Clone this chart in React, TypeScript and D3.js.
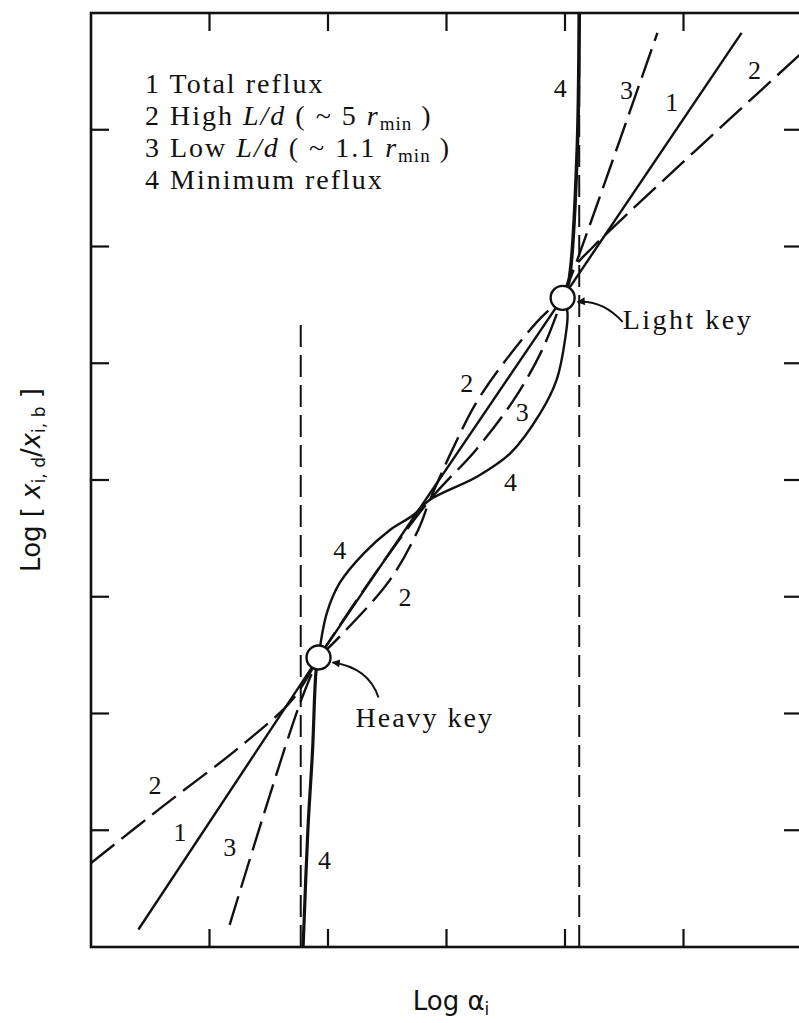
import React from 'react';
import * as d3 from 'd3';

// plot frame in px (right edge runs just past the page, as in the scan)
const FRAME = { left: 91, top: 13, right: 802, bottom: 947 };

// log units, no tick labels on the original
const xDomain = [0, 6];
const yDomain = [0, 8];
const xTickValues = [1, 2, 3, 4, 5];
const yTickValues = [1, 2, 3, 4, 5, 6, 7];

// key components
const heavyKey: [number, number] = [1.92, 2.48];
const lightKey: [number, number] = [3.98, 5.56];

// 1 total reflux
const totalReflux = [[0.40, 0.15], [1.92, 2.48], [3.98, 5.56], [5.49, 7.83]];

// 2 high L/d
const highLdLower = [[0.0, 0.72], [0.60, 1.20], [1.30, 1.75], [1.70, 2.12], [1.92, 2.48]];
const highLdMid = [[1.92, 2.48], [2.10, 2.66], [2.52, 3.14], [2.76, 3.57], [2.86, 3.83], [3.05, 4.26], [3.28, 4.71], [3.76, 5.35], [3.98, 5.56]];
const highLdUpper = [[3.98, 5.56], [4.08, 5.82], [4.24, 6.00], [6.0, 7.66]];

// 3 low L/d
const lowLdLower = [[1.17, 0.19], [1.75, 2.05], [1.92, 2.48]];
const lowLdMid = [[1.92, 2.48], [2.35, 3.13], [2.86, 3.83], [3.25, 4.26], [3.57, 4.69], [3.81, 5.12], [3.98, 5.56]];
const lowLdUpper = [[3.98, 5.56], [4.08, 5.82], [4.78, 7.83]];

// 4 minimum reflux
const minRefluxLower = [[1.79, 0.0], [1.83, 1.00], [1.87, 1.69], [1.90, 2.37], [1.92, 2.48]];
const minRefluxMid = [[1.92, 2.48], [1.99, 2.86], [2.10, 3.12], [2.30, 3.37], [2.52, 3.57], [2.72, 3.70], [2.86, 3.83], [3.26, 4.03], [3.54, 4.23], [3.79, 4.57], [3.93, 4.86], [4.00, 5.20], [4.02, 5.44], [3.98, 5.56]];
const minRefluxUpper = [[3.98, 5.56], [4.03, 5.69], [4.10, 6.74], [4.12, 8.0]];

// pinch asymptotes
const pinchLeft = [[1.77, 0], [1.77, 5.33]];
const pinchRight = [[4.12, 0], [4.12, 8]];

const legendLines = [
  ['1 Total reflux'],
  ['2 High ', 'L/d', ' ( ~ 5 ', 'r', 'min', ' )'],
  ['3 Low ', 'L/d', ' ( ~ 1.1 ', 'r', 'min', ' )'],
  ['4 Minimum reflux'],
];

const curveLabels = [
  { t: '4', x: 3.96, y: 7.36 },
  { t: '3', x: 4.52, y: 7.34 },
  { t: '1', x: 4.90, y: 7.24 },
  { t: '2', x: 5.60, y: 7.51 },
  { t: '2', x: 3.17, y: 4.83 },
  { t: '3', x: 3.64, y: 4.58 },
  { t: '4', x: 3.54, y: 3.98 },
  { t: '4', x: 2.10, y: 3.40 },
  { t: '2', x: 2.65, y: 3.00 },
  { t: '2', x: 0.54, y: 1.39 },
  { t: '1', x: 0.75, y: 0.99 },
  { t: '3', x: 1.17, y: 0.86 },
  { t: '4', x: 1.97, y: 0.75 },
];

const SERIF = '"Liberation Serif", "Times New Roman", serif';
const SANS = '"DejaVu Sans", sans-serif';
const INK = '#111';

export default function App() {
  const x = d3.scaleLinear().domain(xDomain).range([FRAME.left, FRAME.right]);
  const y = d3.scaleLinear().domain(yDomain).range([FRAME.bottom, FRAME.top]);

  const straight = d3.line<number[]>().x(d => x(d[0])).y(d => y(d[1]));
  const smooth = d3.line<number[]>().x(d => x(d[0])).y(d => y(d[1])).curve(d3.curveCatmullRom.alpha(0.5));

  const solid = { fill: 'none', stroke: INK, strokeWidth: 2.4 };
  const dashed = { ...solid, strokeDasharray: '30 9' };
  const pinch = { fill: 'none', stroke: INK, strokeWidth: 2, strokeDasharray: '22 8' };

  const hk = [x(heavyKey[0]), y(heavyKey[1])];
  const lk = [x(lightKey[0]), y(lightKey[1])];
  const R = 12;

  const tick = 18;

  return (
    <svg width={799} height={1023} style={{ position: 'absolute', left: 0, top: 0, background: '#fff' }}>
      <defs>
        <clipPath id="plot">
          <rect x={FRAME.left} y={FRAME.top} width={FRAME.right - FRAME.left} height={FRAME.bottom - FRAME.top} />
        </clipPath>
        <marker id="arr" viewBox="0 0 10 10" refX="9" refY="5" markerWidth="10" markerHeight="8" markerUnits="userSpaceOnUse" orient="auto">
          <path d="M0,0 L10,5 L0,10 z" fill={INK} />
        </marker>
      </defs>

      {/* frame */}
      <rect x={FRAME.left} y={FRAME.top} width={FRAME.right - FRAME.left} height={FRAME.bottom - FRAME.top}
        fill="none" stroke={INK} strokeWidth={2.6} />
      {xTickValues.map(v => (
        <g key={'x' + v}>
          <line x1={x(v)} x2={x(v)} y1={FRAME.bottom} y2={FRAME.bottom - tick} stroke={INK} strokeWidth={2.2} />
          <line x1={x(v)} x2={x(v)} y1={FRAME.top} y2={FRAME.top + tick} stroke={INK} strokeWidth={2.2} />
        </g>
      ))}
      {yTickValues.map(v => (
        <g key={'y' + v}>
          <line x1={FRAME.left} x2={FRAME.left + tick} y1={y(v)} y2={y(v)} stroke={INK} strokeWidth={2.2} />
          <line x1={FRAME.right} x2={FRAME.right - tick} y1={y(v)} y2={y(v)} stroke={INK} strokeWidth={2.2} />
        </g>
      ))}

      <g clipPath="url(#plot)">
        <path d={straight(pinchLeft) ?? ''} {...pinch} />
        <path d={straight(pinchRight) ?? ''} {...pinch} />

        <path d={straight(totalReflux) ?? ''} {...solid} />

        <path d={smooth(highLdLower) ?? ''} {...dashed} />
        <path d={smooth(highLdMid) ?? ''} {...dashed} />
        <path d={smooth(highLdUpper) ?? ''} {...dashed} />

        <path d={smooth(lowLdLower) ?? ''} {...dashed} />
        <path d={smooth(lowLdMid) ?? ''} {...dashed} />
        <path d={smooth(lowLdUpper) ?? ''} {...dashed} />

        <path d={smooth(minRefluxLower) ?? ''} {...solid} strokeWidth={3.2} />
        <path d={smooth(minRefluxMid) ?? ''} {...solid} />
        <path d={smooth(minRefluxUpper) ?? ''} {...solid} strokeWidth={3.6} />
      </g>

      {/* key components */}
      <circle cx={hk[0]} cy={hk[1]} r={R} fill="#fff" stroke={INK} strokeWidth={2.4} />
      <circle cx={lk[0]} cy={lk[1]} r={R} fill="#fff" stroke={INK} strokeWidth={2.4} />

      <path d={`M${hk[0] + 60},${hk[1] + 40} Q${hk[0] + 50},${hk[1] + 10} ${hk[0] + 14},${hk[1] + 5}`}
        fill="none" stroke={INK} strokeWidth={2} markerEnd="url(#arr)" />
      <path d={`M${lk[0] + 60},${lk[1] + 24} Q${lk[0] + 40},${lk[1] + 2} ${lk[0] + 15},${lk[1] + 4}`}
        fill="none" stroke={INK} strokeWidth={2} markerEnd="url(#arr)" />

      <text x={hk[0] + 37} y={hk[1] + 70} fontFamily={SERIF} fontSize={28} letterSpacing={2} fill={INK}>Heavy key</text>
      <text x={lk[0] + 60} y={lk[1] + 31} fontFamily={SERIF} fontSize={28} letterSpacing={2.5} fill={INK}>Light key</text>

      {/* curve numbers */}
      {curveLabels.map((l, i) => (
        <text key={i} x={x(l.x)} y={y(l.y)} dy="0.35em" textAnchor="middle" fontFamily={SERIF} fontSize={26} fill={INK}>{l.t}</text>
      ))}

      {/* legend */}
      <g fontFamily={SERIF} fontSize={28} letterSpacing={2} fill={INK}>
        {legendLines.map((parts, i) => (
          <text key={i} x={145} y={93 + i * 32}>
            {parts.length === 1 ? parts[0] : (
              <>
                <tspan>{parts[0]}</tspan>
                <tspan fontStyle="italic">{parts[1]}</tspan>
                <tspan>{parts[2]}</tspan>
                <tspan fontStyle="italic">{parts[3]}</tspan>
                <tspan fontSize={19} dy={5} letterSpacing={1}>{parts[4]}</tspan>
                <tspan dy={-5}>{parts[5]}</tspan>
              </>
            )}
          </text>
        ))}
      </g>

      {/* axis titles */}
      <text x={451} y={1010} textAnchor="middle" fontFamily={SANS} fontSize={26} fill={INK}>
        Log α<tspan fontSize={17} dy={5}>i</tspan>
      </text>
      <text transform={`translate(40,${(FRAME.top + FRAME.bottom) / 2}) rotate(-90)`} textAnchor="middle"
        fontFamily={SANS} fontSize={26} fill={INK}>
        Log [ <tspan fontStyle="italic">x</tspan><tspan fontSize={17} dy={5}>i, d</tspan>
        <tspan dy={-5}>/</tspan><tspan fontStyle="italic">x</tspan><tspan fontSize={17} dy={5}>i, b</tspan>
        <tspan dy={-5}> ]</tspan>
      </text>
    </svg>
  );
}
